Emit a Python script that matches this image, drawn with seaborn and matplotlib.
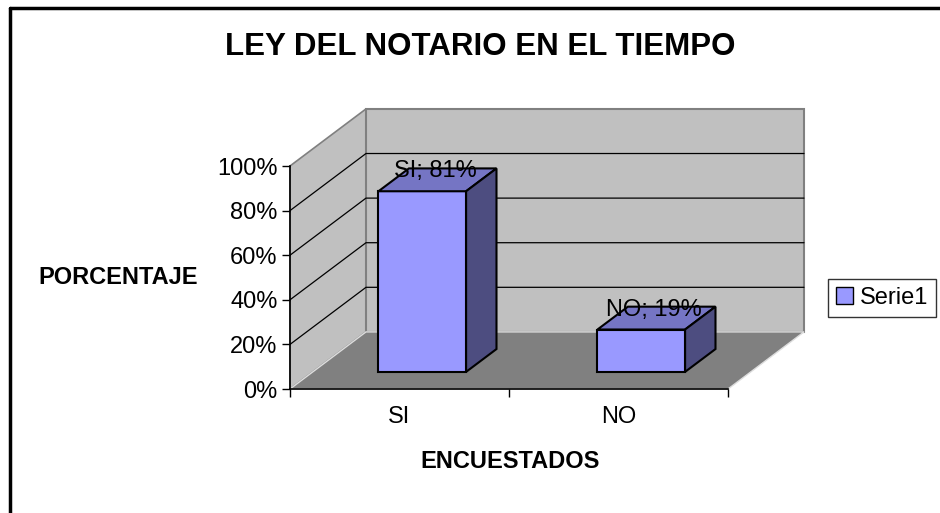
import matplotlib.pyplot as plt
import matplotlib.patches as mpatches
from matplotlib.lines import Line2D
import pandas as pd
import seaborn as sns

# chart data
categories = ['SI', 'NO']
values = [81, 19]
series_name = 'Serie1'
y_ticks = [0, 20, 40, 60, 80, 100]
y_tick_labels = ['0%', '20%', '40%', '60%', '80%', '100%']

df = pd.DataFrame({'cat': categories, 'val': values})

sns.set_theme(style='white')
plt.rcParams['font.family'] = ['Liberation Sans', 'DejaVu Sans']
plt.rcParams.update({'text.color': 'black', 'axes.labelcolor': 'black',
                     'xtick.color': 'black', 'ytick.color': 'black'})

fig = plt.figure(figsize=(9.4, 5.13), dpi=100)
ax = fig.add_axes([290 / 940, 1 - 389 / 513, 438 / 940, 223 / 513])

# depth of the fake 3d box, in data units
DX, DY = 0.347, 25.6
front, back = 0.3, 0.7
x0, x1 = -0.5, 1.5

wall = '#C0C0C0'
floor = '#808080'
edge = '#808080'

# bars first so we can grab their patches
sns.barplot(data=df, x='cat', y='val', color='#9999FF', width=0.4, saturation=1,
            edgecolor='black', linewidth=1.5, ax=ax, zorder=3)
bars = list(ax.patches)

# left wall, floor, back wall
ax.add_patch(mpatches.Polygon([(x0, 0), (x0, 100), (x0 + DX, 100 + DY), (x0 + DX, DY)],
                              closed=True, fc=wall, ec=edge, lw=1.2, clip_on=False, zorder=0))
ax.add_patch(mpatches.Polygon([(x0, 0), (x1, 0), (x1 + DX, DY), (x0 + DX, DY)],
                              closed=True, fc=floor, ec='#DDDDDD', lw=1, clip_on=False, zorder=0.5))
ax.add_patch(mpatches.Rectangle((x0 + DX, DY), x1 - x0, 100, fc=wall, ec=edge, lw=1.5,
                                clip_on=False, zorder=0))

# gridlines on walls
for t in y_ticks[1:-1]:
    ax.plot([x0, x0 + DX, x1 + DX], [t, t + DY, t + DY], color='black', lw=0.9,
            clip_on=False, zorder=0.8)

ddx, ddy = (back - front) * DX, (back - front) * DY
for p, v in zip(bars, values):
    p.set_x(p.get_x() + front * DX)
    p.set_y(front * DY)
    p.set_clip_on(False)
    bx, bw = p.get_x(), p.get_width()
    by = front * DY
    top = [(bx, by + v), (bx + bw, by + v), (bx + bw + ddx, by + v + ddy), (bx + ddx, by + v + ddy)]
    side = [(bx + bw, by), (bx + bw, by + v), (bx + bw + ddx, by + v + ddy), (bx + bw + ddx, by + ddy)]
    ax.add_patch(mpatches.Polygon(top, closed=True, fc='#7575C4', ec='black', lw=1.5,
                                  clip_on=False, zorder=3))
    ax.add_patch(mpatches.Polygon(side, closed=True, fc='#4D4D80', ec='black', lw=1.5,
                                  clip_on=False, zorder=3))

for i, (c, v) in enumerate(zip(categories, values)):
    ax.text(i + 0.5 * DX - 0.01, v + 0.5 * DY + 3.8, f'{c}; {v}%', ha='center', va='center',
            fontsize=17, zorder=4)

ax.set_xlim(x0, x1)
ax.set_ylim(0, 100)
ax.set_yticks(y_ticks)
ax.set_yticklabels(y_tick_labels, fontsize=17)
ax.set_xticks(range(len(categories)))
ax.set_xticklabels(categories, fontsize=17)
ax.set_xticks([-0.5, 0.5, 1.5], minor=True)
ax.tick_params(axis='x', which='major', length=0, pad=12)
ax.tick_params(axis='x', which='minor', length=6, width=1, color='black', direction='out', bottom=True)
ax.tick_params(axis='y', length=6, width=1, color='black', direction='out', left=True, pad=3)
ax.set_xlabel('')
ax.set_ylabel('')
ax.patch.set_visible(False)
for s in ['top', 'right']:
    ax.spines[s].set_visible(False)
for s in ['left', 'bottom']:
    ax.spines[s].set_color('black')
    ax.spines[s].set_linewidth(1.2)
    ax.spines[s].set_zorder(5)

# titles
fig.text(480 / 940, 1 - 47 / 513, 'LEY DEL NOTARIO EN EL TIEMPO', ha='center', va='center',
         fontsize=22.5, fontweight='bold')
fig.text(118 / 940, 1 - 277 / 513, 'PORCENTAJE', ha='center', va='center',
         fontsize=17, fontweight='bold')
fig.text(510 / 940, 1 - 462 / 513, 'ENCUESTADOS', ha='center', va='center',
         fontsize=17, fontweight='bold')

# legend
handle = mpatches.Patch(fc='#9999FF', ec='black', lw=1, label=series_name)
leg = fig.legend(handles=[handle], loc='center', bbox_to_anchor=(882 / 940, 1 - 298 / 513),
                 fontsize=17, frameon=True, fancybox=False, handlelength=0.7, handleheight=0.7,
                 handletextpad=0.3, borderpad=0.35)
leg.get_frame().set_edgecolor('black')
leg.get_frame().set_linewidth(1)

# open outer frame
fig.add_artist(Line2D([10 / 940, 10 / 940], [0, 1 - 8 / 513], color='black', lw=2.5))
fig.add_artist(Line2D([10 / 940, 1], [1 - 8 / 513, 1 - 8 / 513], color='black', lw=2.5))

fig.savefig('out.png', dpi=100, facecolor='white')
